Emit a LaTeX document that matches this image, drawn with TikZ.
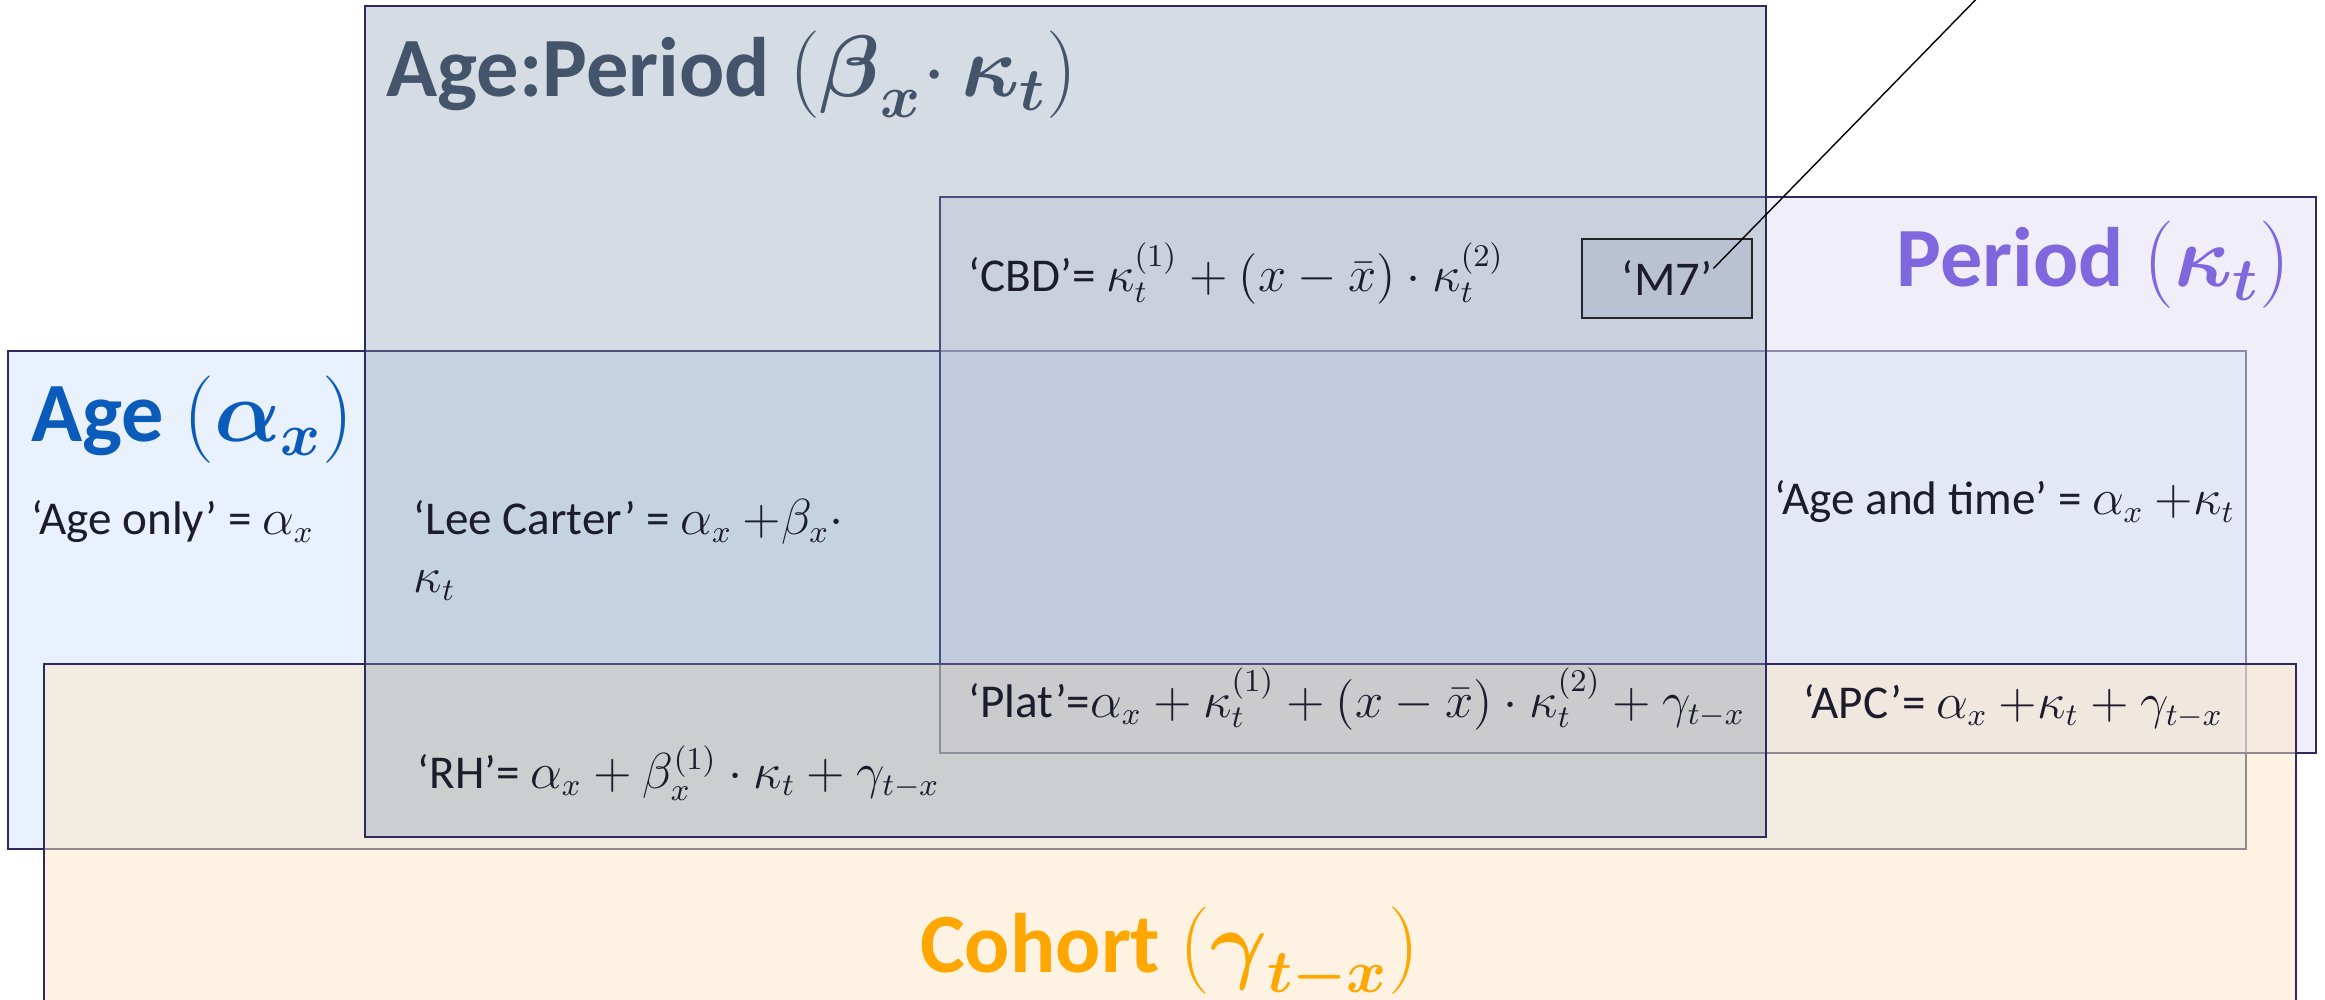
\documentclass[tikz,border=0pt]{standalone}
\usepackage{amsmath}
\usepackage{fontspec}
\setmainfont{Carlito}
\usepackage{tikz}
\usetikzlibrary{positioning,calc}
\definecolor{edge}{HTML}{2E2A5E}
\definecolor{apfill}{HTML}{8497B0}
\definecolor{agefill}{HTML}{E8F1FC}
\definecolor{perfill}{HTML}{E2DEF2}
\definecolor{cohfill}{HTML}{FDE8C7}
\definecolor{m7fill}{HTML}{BAC1D2}
\definecolor{aptext}{HTML}{44546A}
\definecolor{agetext}{HTML}{0B5BBA}
\definecolor{pertext}{HTML}{7F68DD}
\definecolor{cohtext}{HTML}{FFA600}
\definecolor{eqtext}{HTML}{1C1C2C}

\begin{document}
\begin{tikzpicture}[
  setbox/.style={draw=edge, line width=0.7pt},
  title/.style={font=\fontsize{24}{28}\selectfont\bfseries, inner sep=0pt},
  eqn/.style={font=\fontsize{13.4}{16.5}\selectfont, text=eqtext, inner sep=0pt, anchor=base west},
  modelbox/.style={draw=black!85, line width=0.8pt, fill=m7fill, minimum width=1.7cm, minimum height=0.79cm, font=\fontsize{13.8}{16}\selectfont, text=eqtext},
  callout/.style={draw=black, line width=0.4pt}
]
\useasboundingbox (0,0) rectangle (23.25,-10);
\clip (0,0) rectangle (23.25,-10);

\draw[setbox, fill=agefill] (0.08,-3.51) rectangle (22.46,-8.49);
\draw[setbox, fill=perfill, fill opacity=0.52] (9.40,-1.97) rectangle (23.16,-7.53);
\draw[setbox, fill=cohfill, fill opacity=0.5] (0.44,-6.64) rectangle (22.96,-10.3);
\draw[setbox, fill=apfill, fill opacity=0.34] (3.65,-0.06) rectangle (17.66,-8.37);

\node[title, text=aptext, anchor=base west] (aptitle) at (3.86,-0.97)
  {Age:Period $(\boldsymbol{\beta}_{\boldsymbol{x}}{\cdot}\,\boldsymbol{\kappa}_{\boldsymbol{t}})$};
\node[title, text=agetext, anchor=base west] (agetitle) at (0.31,-4.42)
  {Age $(\boldsymbol{\alpha}_{\boldsymbol{x}})$};
\node[title, text=pertext, anchor=base east] (pertitle) at (22.91,-2.87)
  {Period $(\boldsymbol{\kappa}_{\boldsymbol{t}})$};
\node[title, text=cohtext, anchor=base] (cohtitle) at (11.70,-9.72)
  {Cohort $(\boldsymbol{\gamma}_{\boldsymbol{t-x}})$};

\node[eqn] (ageonly) at (0.31,-5.35) {‘Age only’ = $\alpha_x$};
\node[eqn] (leecarter) at (4.13,-5.35) {‘Lee Carter’ = $\alpha_x\ {+}\beta_x\cdot$};
\node[eqn] (leecarter2) at (4.13,-5.93) {$\kappa_t$};
\node[eqn] (cbd) at (9.68,-2.92) {‘CBD’= $\kappa_t^{(1)} + (x-\bar{x})\cdot\kappa_t^{(2)}$};
\node[modelbox] (m7) at (16.67,-2.785) {‘M7’};
\node[eqn] (agetime) at (17.74,-5.15) {‘Age and time’ = $\alpha_x\ {+}\kappa_t$};
\node[eqn] (rh) at (4.17,-7.88) {‘RH’= $\alpha_x + \beta_x^{(1)}\cdot\kappa_t + \gamma_{t-x}$};
\node[eqn] (plat) at (9.68,-7.17) {‘Plat’=$\alpha_x + \kappa_t^{(1)} + (x-\bar{x})\cdot\kappa_t^{(2)} + \gamma_{t-x}$};
\node[eqn] (apc) at (18.03,-7.18) {‘APC’= $\alpha_x\ {+}\kappa_t + \gamma_{t-x}$};

\coordinate (m7end) at (19.9,0.15);
\draw[callout] ([xshift=-4mm,yshift=1mm]m7.east) -- (m7end);
\end{tikzpicture}
\end{document}
